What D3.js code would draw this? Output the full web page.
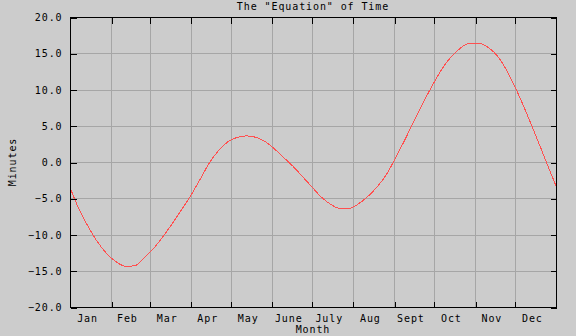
<!DOCTYPE html>
<html>
<head>
<meta charset="utf-8">
<script src="https://cdn.jsdelivr.net/npm/d3@7"></script>
<style>
html,body{margin:0;padding:0;background:#cccccc;}
svg{display:block;}
text{font-family:"DejaVu Sans Mono",monospace;font-size:10px;letter-spacing:0.9px;fill:#000;}
</style>
</head>
<body>
<svg id="chart" width="576" height="336"></svg>
<script>
// ---- data ----
const monthNames = ["Jan","Feb","Mar","Apr","May","June","July","Aug","Sept","Oct","Nov","Dec"];
const monthLengths = [31,29,31,30,31,30,31,31,30,31,30,31];
const yTicks = [-20,-15,-10,-5,0,5,10,15,20];
const days = [0,7,14,21,28,35,42,49,56,63,70,77,84,91,98,105,112,119,126,133,140,147,154,161,168,175,182,189,196,203,210,217,224,231,238,245,252,259,266,273,280,287,294,301,308,315,322,329,336,343,350,357,364,366];
const minutes = [-3.5,-6.6,-9.0,-11.1,-12.7,-13.8,-14.4,-14.3,-13.2,-11.9,-10.3,-8.5,-6.6,-4.6,-2.4,-0.1,1.6,2.8,3.4,3.6,3.4,2.8,1.8,0.6,-0.6,-2.0,-3.4,-4.8,-5.8,-6.4,-6.4,-5.8,-4.8,-3.5,-1.8,0.5,3.0,5.6,8.2,10.6,12.8,14.5,15.7,16.4,16.4,15.8,14.6,12.6,10.0,7.1,4.0,0.8,-2.4,-3.3];

// ---- layout ----
const svg = d3.select("#chart");
const L = 70, R = 556, T = 17, B = 307;
const x = d3.scaleLinear().domain([0,366]).range([L,R]);
const y = d3.scaleLinear().domain([-20,20]).range([B,T]);

svg.append("rect").attr("width",576).attr("height",336).attr("fill","#cccccc");

// month boundaries
const starts = [];
let acc = 0;
monthLengths.forEach(l => { starts.push(acc); acc += l; });
const bounds = starts.slice(1);
const mids = starts.map((s,i) => s + monthLengths[i]/2);

const px = v => Math.round(v) + 0.5;

// grid
const grid = svg.append("g").attr("stroke","#a6a6a6").attr("stroke-width",1).attr("shape-rendering","crispEdges");
grid.selectAll("line.v").data(bounds).join("line")
  .attr("x1",d=>px(x(d))).attr("x2",d=>px(x(d))).attr("y1",T).attr("y2",B);
grid.selectAll("line.h").data(yTicks.filter(d=>d>-20&&d<20)).join("line")
  .attr("y1",d=>px(y(d))).attr("y2",d=>px(y(d))).attr("x1",L).attr("x2",R);

// curve
const line = d3.line().x((d,i)=>x(days[i])).y(d=>y(d)).curve(d3.curveMonotoneX);
svg.append("path").datum(minutes).attr("d",line)
  .attr("fill","none").attr("stroke","#ff5050").attr("stroke-width",1)
  .attr("shape-rendering","crispEdges");

// axes
const axL = d3.axisLeft(y).tickValues(yTicks).tickFormat(d3.format(".1f")).tickSizeInner(-6).tickSizeOuter(0).tickPadding(8);
const axR = d3.axisRight(y).tickValues(yTicks).tickFormat("").tickSizeInner(-6).tickSizeOuter(0);
const axT = d3.axisTop(x).tickValues(bounds).tickFormat("").tickSizeInner(-6).tickSizeOuter(0);
const axB = d3.axisBottom(x).tickValues(bounds).tickFormat("").tickSizeInner(-6).tickSizeOuter(0);

function styleAxis(g){
  g.select(".domain").remove();
  g.selectAll("line").attr("stroke","#000").attr("shape-rendering","crispEdges");
  g.selectAll("text").attr("font-family","DejaVu Sans Mono").attr("font-size","10px").attr("fill","#000");
}
svg.append("g").attr("transform",`translate(${L+0.5},0.5)`).call(axL).call(styleAxis);
svg.append("g").attr("transform",`translate(${R+0.5},0.5)`).call(axR).call(styleAxis);
svg.append("g").attr("transform",`translate(0.5,${T+0.5})`).call(axT).call(styleAxis);
svg.append("g").attr("transform",`translate(0.5,${B+0.5})`).call(axB).call(styleAxis);

// frame
svg.append("rect").attr("x",L+0.5).attr("y",T+0.5).attr("width",R-L).attr("height",B-T)
  .attr("fill","none").attr("stroke","#000").attr("stroke-width",1).attr("shape-rendering","crispEdges");

// month labels
svg.append("g").selectAll("text").data(monthNames).join("text")
  .attr("x",(d,i)=>x(mids[i])-3).attr("y",322).attr("text-anchor","middle").text(d=>d);

// titles
svg.append("text").attr("x",(L+R)/2).attr("y",10).attr("text-anchor","middle").text('The "Equation" of Time');
svg.append("text").attr("x",(L+R)/2).attr("y",333).attr("text-anchor","middle").text("Month");
svg.append("text").attr("transform","translate(16,162) rotate(-90)").attr("text-anchor","middle").text("Minutes");
</script>
</body>
</html>
